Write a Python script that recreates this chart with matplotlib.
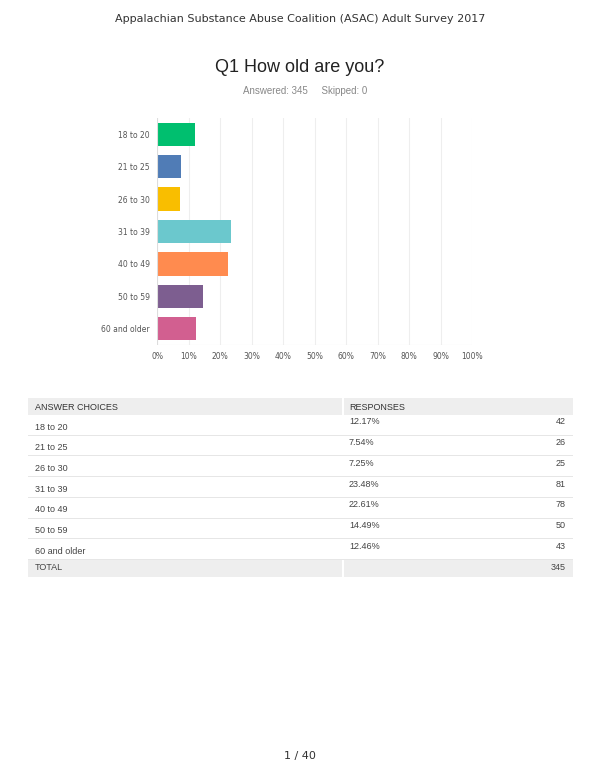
import matplotlib.pyplot as plt
from matplotlib.patches import Rectangle

categories = ['18 to 20', '21 to 25', '26 to 30', '31 to 39', '40 to 49', '50 to 59', '60 and older']
percents = [12.17, 7.54, 7.25, 23.48, 22.61, 14.49, 12.46]
counts = [42, 26, 25, 81, 78, 50, 43]
total = 345
colors = ['#00bf6f', '#507cb6', '#f9be00', '#6bc8cd', '#ff8b4f', '#7d5e90', '#d25f90']

W, H = 600, 776
fig = plt.figure(figsize=(6, 7.76), dpi=100)
plt.rcParams['font.family'] = 'Liberation Sans'

def px(x, y):
    return x / W, 1 - y / H

fig.text(*px(300, 19), 'Appalachian Substance Abuse Coalition (ASAC) Adult Survey 2017',
         ha='center', va='center', fontsize=8, color='#333333', family='DejaVu Sans')
fig.text(*px(300, 67), 'Q1 How old are you?', ha='center', va='center', fontsize=13, color='#222222')
fig.text(*px(305, 91), 'Answered: 345     Skipped: 0', ha='center', va='center', fontsize=7, color='#888888')
fig.text(*px(300, 756), '1 / 40', ha='center', va='center', fontsize=8, color='#333333', family='DejaVu Sans')

ax = fig.add_axes([157 / W, 1 - 345 / H, 315 / W, 227 / H])
y = list(range(len(categories)))
ax.barh(y, percents, color=colors, height=0.72, zorder=3)
ax.set_ylim(len(categories) - 0.5, -0.5)
ax.set_xlim(0, 100)
ax.set_yticks(y)
ax.set_yticklabels(categories, fontsize=5.5, color='#555555', family='DejaVu Sans')
ax.set_xticks(range(0, 101, 10))
ax.set_xticklabels([f'{v}%' for v in range(0, 101, 10)], fontsize=5.5, color='#555555', family='DejaVu Sans')
ax.tick_params(length=0, pad=5)
ax.grid(axis='x', color='#eeeeee', lw=0.8, zorder=0)
for s in ax.spines.values():
    s.set_visible(False)
ax.axvline(0, color='#dddddd', lw=0.8, zorder=4)
ax.axhline(len(categories) - 0.5, color='#dddddd', lw=0.8, zorder=4)

# table
x0, xs, x1 = 28, 343, 573
row_h = 20.7
top = 398
def rect(xa, ya, w, h, c):
    fig.patches.append(Rectangle(px(xa, ya + h), w / W, h / H, transform=fig.transFigure,
                                 facecolor=c, edgecolor='none'))

rect(x0, top, xs - x0 - 1, 17, '#eeeeee')
rect(xs + 1, top, x1 - xs - 1, 17, '#eeeeee')
fig.text(*px(35, top + 9), 'ANSWER CHOICES', fontsize=6.5, color='#333333', va='center')
fig.text(*px(349, top + 9), 'RESPONSES', fontsize=6.5, color='#333333', va='center')
ry = top + 17
for c, p, n in zip(categories, percents, counts):
    fig.text(*px(35, ry + 12), c, fontsize=6.5, color='#444444', va='center')
    fig.text(*px(349, ry + 7), f'{p:.2f}%', fontsize=6.5, color='#444444', va='center')
    fig.text(*px(566, ry + 7), str(n), fontsize=6.5, color='#444444', va='center', ha='right')
    ry += row_h
    rect(x0, ry - 1, x1 - x0, 1, '#e6e6e6')
rect(x0, ry, xs - x0 - 1, 17, '#eeeeee')
rect(xs + 1, ry, x1 - xs - 1, 17, '#eeeeee')
fig.text(*px(35, ry + 8), 'TOTAL', fontsize=6.5, color='#444444', va='center')
fig.text(*px(566, ry + 8), str(total), fontsize=6.5, color='#444444', va='center', ha='right')

fig.savefig('out.png', dpi=100)
